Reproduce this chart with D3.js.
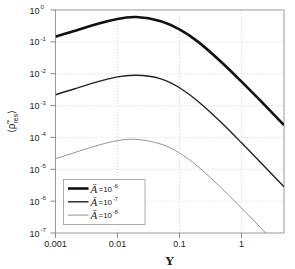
<!DOCTYPE html>
<html>
<head>
<meta charset="utf-8">
<script src="https://cdn.jsdelivr.net/npm/d3@7"></script>
<style>
  body { margin: 0; background: #fff; }
  svg { display: block; }
  text { font-family: "Liberation Sans", Arial, sans-serif; fill: #222; }
</style>
</head>
<body>
<div id="root"></div>
<script>
// gamma values (x) shared by all curves
const gammas = [0.001, 0.002, 0.005, 0.01, 0.02, 0.05, 0.1, 0.2, 0.5, 1, 2, 4.84];

// <rho_res>, one array per A-bar value
const rhoA6 = [0.145, 0.219, 0.380, 0.525, 0.603, 0.447, 0.245, 0.100, 0.0209, 0.00562, 0.00145, 0.000245];
const rhoA7 = [0.00219, 0.00331, 0.00575, 0.00794, 0.00891, 0.00692, 0.00363, 0.00135, 0.000263, 6.76e-5, 1.70e-5, 2.82e-6];
const rhoA8 = [2.14e-5, 3.31e-5, 5.75e-5, 7.94e-5, 8.71e-5, 6.17e-5, 3.24e-5, 1.20e-5, 2.34e-6, 6.03e-7, 1.51e-7, 2.45e-8];

const legendExps = ["-6", "-7", "-8"];
const xTicks = [0.001, 0.01, 0.1, 1];
const xTickLabels = ["0.001", "0.01", "0.1", "1"];
const yExps = [0, -1, -2, -3, -4, -5, -6, -7];

const series = [
	{ values: rhoA6, width: 2.6, color: "#111" },
	{ values: rhoA7, width: 1.4, color: "#222" },
	{ values: rhoA8, width: 0.9, color: "#888" }
];

const W = 295, H = 269;
const margin = { left: 55.5, right: 11, top: 10, bottom: 36 };

const svg = d3.select("#root")
	.append("svg")
		.attr("width", W)
		.attr("height", H);

const x = d3.scaleLog().domain([0.001, 4.84]).range([margin.left, W - margin.right]);
const y = d3.scaleLog().domain([1e-7, 1]).range([H - margin.bottom, margin.top]);

const x0 = x.range()[0], x1 = x.range()[1];
const y0 = y.range()[1], y1 = y.range()[0];

svg.append("clipPath").attr("id", "plot")
	.append("rect")
		.attr("x", x0).attr("y", y0)
		.attr("width", x1 - x0).attr("height", y1 - y0);

// dotted grid
const grid = svg.append("g").style("stroke", "#ccc").style("stroke-dasharray", "1,2").style("stroke-width", 0.8);
grid.selectAll(".v")
	.data(xTicks.slice(1)).enter()
	.append("line")
		.attr("x1", d => x(d)).attr("x2", d => x(d))
		.attr("y1", y0).attr("y2", y1);
grid.selectAll(".h")
	.data(yExps.slice(1, -1)).enter()
	.append("line")
		.attr("y1", d => y(Math.pow(10, d))).attr("y2", d => y(Math.pow(10, d)))
		.attr("x1", x0).attr("x2", x1);

// frame
svg.append("rect")
	.attr("x", x0).attr("y", y0)
	.attr("width", x1 - x0).attr("height", y1 - y0)
	.style("fill", "none")
	.style("stroke", "#999")
	.style("stroke-width", 1);

// y axis ticks and labels
const yAx = svg.append("g");
yAx.selectAll("line")
	.data(yExps).enter()
	.append("line")
		.attr("x1", x0 - 5).attr("x2", x0)
		.attr("y1", d => y(Math.pow(10, d))).attr("y2", d => y(Math.pow(10, d)))
		.style("stroke", "#888");
const yLab = yAx.selectAll("g.lab")
	.data(yExps).enter()
	.append("g")
		.attr("class", "lab")
		.attr("transform", d => `translate(0, ${ y(Math.pow(10, d)) })`);
yLab.append("text")
	.attr("x", 39.5).attr("y", 3.5)
	.attr("text-anchor", "end")
	.style("font-size", "9px")
	.text("10");
yLab.append("text")
	.attr("x", 40.5).attr("y", -1)
	.style("font-size", "6px")
	.text(d => d === 0 ? "0" : d.toString());

// x axis ticks and labels
const xAx = svg.append("g");
xAx.selectAll("line")
	.data(xTicks).enter()
	.append("line")
		.attr("x1", d => x(d)).attr("x2", d => x(d))
		.attr("y1", y1).attr("y2", y1 + 5)
		.style("stroke", "#888");
xAx.selectAll("text")
	.data(xTicks).enter()
	.append("text")
		.attr("x", d => x(d)).attr("y", y1 + 14)
		.attr("text-anchor", "middle")
		.style("font-size", "9px")
		.text((d, i) => xTickLabels[i]);

// axis titles
svg.append("text")
	.attr("x", (x0 + x1) / 2).attr("y", 265)
	.attr("text-anchor", "middle")
	.style("font-family", "'DejaVu Serif', serif")
	.style("font-weight", "bold")
	.style("font-size", "11px")
	.text("Υ");

const yTitle = svg.append("text")
	.attr("transform", `translate(15, ${ (y0 + y1) / 2 }) rotate(-90)`)
	.attr("text-anchor", "middle")
	.style("font-size", "10px");
yTitle.append("tspan").text("⟨ρ\u0303");
yTitle.append("tspan").attr("dy", 2.5).style("font-size", "7px").text("res");
yTitle.append("tspan").attr("dy", -2.5).text("⟩");

// curves
const line = d3.line()
	.x((d, i) => x(gammas[i]))
	.y(d => y(d))
	.curve(d3.curveNatural);

svg.append("g")
	.attr("clip-path", "url(#plot)")
	.selectAll("path")
	.data(series).enter()
	.append("path")
		.attr("d", d => line(d.values))
		.style("fill", "none")
		.style("stroke", d => d.color)
		.style("stroke-width", d => d.width);

// legend
const lg = svg.append("g");
lg.append("rect")
	.attr("x", 63.5).attr("y", 179.5)
	.attr("width", 81.5).attr("height", 45)
	.style("fill", "#fff")
	.style("stroke", "#aaa");
const rows = lg.selectAll("g.row")
	.data(series).enter()
	.append("g")
		.attr("class", "row")
		.attr("transform", (d, i) => `translate(0, ${ 188.5 + i * 13.3 })`);
rows.append("line")
	.attr("x1", 68).attr("x2", 88.5)
	.style("stroke", d => d.color)
	.style("stroke-width", d => d.width);
rows.append("text")
	.attr("x", 90.5).attr("y", 4)
	.style("font-family", "'Liberation Serif', serif")
	.style("font-style", "italic")
	.style("font-size", "11px")
	.text("A\u0304");
rows.append("text")
	.attr("x", 98.5).attr("y", 3)
	.style("font-size", "8px")
	.text("=10");
rows.append("text")
	.attr("x", 113).attr("y", -1)
	.style("font-size", "5.5px")
	.text((d, i) => legendExps[i]);
</script>
</body>
</html>
